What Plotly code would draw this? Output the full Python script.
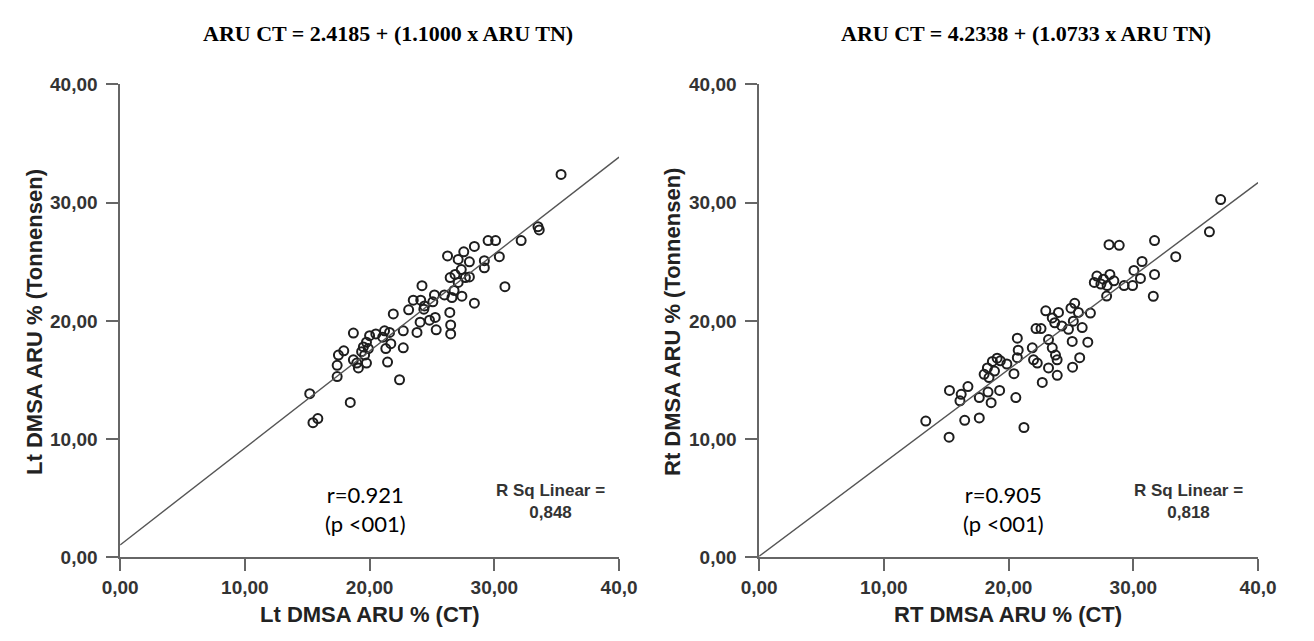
import plotly.graph_objects as go

# ---------------- data ----------------
left_x = [35.35, 33.5, 33.6, 32.15, 30.4, 29.5, 30.1, 29.2, 29.2, 30.85, 28.4, 26.25, 27.55, 27.1, 28.0,
          27.35, 26.85, 26.46, 27.68, 28.0, 27.1, 24.2, 26.77, 26.6, 27.4, 25.2, 26.0, 23.5, 24.1, 24.4,
          25.07, 24.35, 28.4, 23.13, 21.9, 26.43, 24.05, 24.8, 25.26, 26.5, 26.5, 25.34, 23.8, 22.7, 18.7,
          20.0, 20.5, 21.2, 21.6, 21.05, 19.75, 19.5, 19.9, 19.36, 19.6, 21.7, 21.3, 22.7, 21.44, 17.93,
          17.5, 17.4, 18.7, 18.97, 19.1, 19.75, 17.4, 22.4, 15.2, 18.45, 15.85, 15.46]
left_y = [32.39, 27.97, 27.7, 26.8, 25.44, 26.8, 26.8, 25.1, 24.5, 22.9, 26.3, 25.5, 25.85, 25.2, 25.0,
          24.35, 23.94, 23.67, 23.67, 23.72, 23.26, 22.98, 22.58, 21.98, 22.1, 22.2, 22.2, 21.76, 21.76, 21.27,
          21.62, 21.0, 21.5, 20.94, 20.6, 20.72, 19.9, 20.07, 20.3, 19.66, 18.9, 19.25, 19.03, 19.17, 18.98,
          18.76, 18.9, 19.17, 19.03, 18.63, 18.2, 17.8, 17.67, 17.4, 17.12, 18.08, 17.67, 17.73, 16.52, 17.48,
          17.12, 16.25, 16.71, 16.44, 16.03, 16.44, 15.3, 15.03, 13.85, 13.11, 11.75, 11.4]

right_x = [37.0, 36.1, 33.4, 31.7, 31.7, 31.6, 30.7, 30.05, 30.57, 29.94, 29.26, 28.05, 28.87, 27.08, 26.87,
           27.6, 28.12, 28.44, 27.9, 27.4, 27.86, 25.3, 25.0, 25.6, 26.56, 22.98, 24.0, 23.5, 23.7, 24.27,
           24.8, 25.19, 25.9, 22.2, 22.6, 23.2, 25.1, 26.35, 20.7, 21.9, 23.5, 20.77, 23.76, 23.89, 25.7,
           20.7, 22.0, 22.3, 23.2, 23.9, 25.13, 22.7, 19.08, 18.7, 19.34, 19.86, 18.3, 18.87, 18.04, 18.43,
           20.43, 18.35, 19.28, 18.6, 17.65, 20.58, 16.74, 16.2, 16.1, 15.26, 16.48, 17.65, 13.36, 15.23, 21.23]
right_y = [30.27, 27.54, 25.44, 26.8, 23.94, 22.09, 25.03, 24.27, 23.6, 22.99, 22.99, 26.45, 26.4, 23.8, 23.26,
           23.53, 23.94, 23.4, 22.99, 23.12, 22.11, 21.49, 21.08, 20.72, 20.67, 20.86, 20.72, 20.26, 19.85, 19.58,
           19.3, 19.98, 19.44, 19.36, 19.36, 18.43, 18.27, 18.21, 18.54, 17.73, 17.73, 17.53, 17.12, 16.71, 16.9,
           16.9, 16.71, 16.44, 16.03, 15.4, 16.09, 14.8, 16.85, 16.58, 16.63, 16.36, 16.03, 15.76, 15.49, 15.21,
           15.54, 13.99, 14.13, 13.09, 13.52, 13.52, 14.45, 13.8, 13.25, 14.13, 11.6, 11.8, 11.53, 10.17, 10.99]

# fit lines (intercept, slope)
left_fit = (1.06, 0.82)
right_fit = (0.10, 0.79)
line_x = [0, 40]

tick_vals = [0, 10, 20, 30, 40]
x_tick_text = ["0,00", "10,00", "20,00", "30,00", "40,0"]
y_tick_text = ["0,00", "10,00", "20,00", "30,00", "40,00"]

titles = ["ARU CT = 2.4185 + (1.1000 x ARU TN)", "ARU CT = 4.2338 + (1.0733 x ARU TN)"]
x_titles = ["Lt DMSA ARU % (CT)", "RT DMSA ARU % (CT)"]
y_titles = ["Lt DMSA ARU % (Tonnensen)", "Rt DMSA ARU % (Tonnensen)"]
r_texts = ["r=0.921<br>(p <001)", "r=0.905<br>(p <001)"]
rsq_texts = ["R Sq Linear =<br>0,848", "R Sq Linear =<br>0,818"]

# ---------------- figure ----------------
W, H = 1314, 641
fig = go.Figure()

mk = dict(symbol="circle-open", size=9, color="#1e1e1e", line=dict(width=2, color="#1e1e1e"))
fig.add_trace(go.Scatter(x=left_x, y=left_y, mode="markers", marker=mk, xaxis="x", yaxis="y", showlegend=False))
fig.add_trace(go.Scatter(x=line_x, y=[left_fit[0] + left_fit[1] * v for v in line_x], mode="lines",
                         line=dict(color="#555", width=1.4), xaxis="x", yaxis="y", showlegend=False))
fig.add_trace(go.Scatter(x=right_x, y=right_y, mode="markers", marker=mk, xaxis="x2", yaxis="y2", showlegend=False))
fig.add_trace(go.Scatter(x=line_x, y=[right_fit[0] + right_fit[1] * v for v in line_x], mode="lines",
                         line=dict(color="#555", width=1.4), xaxis="x2", yaxis="y2", showlegend=False))

tickfont = dict(family="Liberation Sans, Arial", size=19, color="#333", weight="bold")
axis_common = dict(range=[0, 40], tickvals=tick_vals, showgrid=False, zeroline=False, showline=True,
                   linecolor="#666", linewidth=1.5, ticks="outside", ticklen=12, tickwidth=1.5,
                   tickcolor="#666", tickfont=tickfont, fixedrange=True)

ydom = [(H - 566) / H, (H - 77) / H]
fig.update_layout(
    width=W, height=H, margin=dict(l=0, r=0, t=0, b=0),
    paper_bgcolor="white", plot_bgcolor="white",
    xaxis=dict(domain=[105 / W, 618 / W], anchor="y", ticktext=x_tick_text, **axis_common),
    yaxis=dict(domain=ydom, anchor="x", ticktext=y_tick_text, ticklabelstandoff=5, **axis_common),
    xaxis2=dict(domain=[762 / W, 1275 / W], anchor="y2", ticktext=x_tick_text, **axis_common),
    yaxis2=dict(domain=ydom, anchor="x2", ticktext=y_tick_text, ticklabelstandoff=5, **axis_common),
)

def px(xp, yp):
    return xp / W, 1 - yp / H

anns = []
for i, off in enumerate([0, 656]):
    x, y = px(380 + off, 24)
    anns.append(dict(x=x, y=y, text="<b>" + titles[i] + "</b>", showarrow=False,
                     font=dict(family="Liberation Serif, Times New Roman", size=22, color="black")))
    x, y = px(362 + off, 625)
    anns.append(dict(x=x, y=y, text="<b>" + x_titles[i] + "</b>", showarrow=False,
                     font=dict(family="Liberation Sans, Arial", size=22, color="#222")))
    x, y = px(17 + off, 323)
    anns.append(dict(x=x, y=y, text="<b>" + y_titles[i] + "</b>", showarrow=False, textangle=-90,
                     font=dict(family="Liberation Sans, Arial", size=22, color="#222")))
    x, y = px(357 + off, 516)
    anns.append(dict(x=x, y=y, text=r_texts[i], showarrow=False,
                     font=dict(family="Lato, Open Sans", size=22, color="black")))
    x, y = px(547 + off, 508)
    anns.append(dict(x=x, y=y, text=rsq_texts[i], showarrow=False,
                     font=dict(family="Liberation Sans, Arial", size=17, color="#333", weight="bold")))
for a in anns:
    a.update(xref="paper", yref="paper", xanchor="center", yanchor="middle")
fig.update_layout(annotations=anns)

fig.write_html("out.html", config={"displayModeBar": False},
               post_script="document.body.style.margin='0px';document.body.style.overflow='hidden';")
